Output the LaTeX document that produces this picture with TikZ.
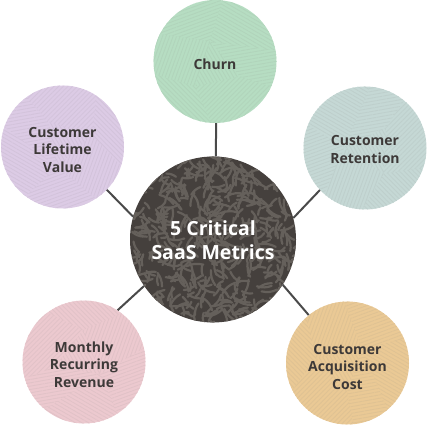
\documentclass[tikz,border=0pt]{standalone}
\usepackage{fontspec}
\setmainfont{Open Sans}
\usetikzlibrary{patterns.meta}
\definecolor{cchurn}{HTML}{B6DDC2}
\definecolor{cret}{HTML}{C5D8D5}
\definecolor{cclv}{HTML}{DCCBE5}
\definecolor{cmrr}{HTML}{ECC9CF}
\definecolor{ccac}{HTML}{EAC995}
\definecolor{ccenter}{HTML}{45403D}
\definecolor{cleaf}{HTML}{65605B}
\definecolor{ctext}{HTML}{3D3938}
\definecolor{cline}{HTML}{4A4A4A}
\newcommand\mpatch[2]{\fill[pattern={Lines[angle=#1,distance=3.3pt,line width=0.8pt]},pattern color=pc] #2 -- cycle;}
\newcommand\mtexture[3]{%
  \begin{scope}
    \colorlet{pc}{#2!90!gray}
    \clip (#1.center) circle (61.5pt);
    \begin{scope}[shift={(#1.center)},rotate=#3]
      \mpatch{20}{(-70,70)--(10,70)--(-5,20)--(-70,30)}
      \mpatch{-30}{(10,70)--(70,70)--(70,10)--(-5,20)}
      \mpatch{70}{(-70,30)--(-5,20)--(-20,-25)--(-70,-10)}
      \mpatch{10}{(-5,20)--(70,10)--(70,-30)--(25,-15)}
      \mpatch{120}{(-5,20)--(25,-15)--(-20,-25)}
      \mpatch{-45}{(-70,-10)--(-20,-25)--(0,-70)--(-70,-70)}
      \mpatch{45}{(-20,-25)--(25,-15)--(70,-30)--(70,-70)--(0,-70)}
    \end{scope}
  \end{scope}}
\begin{document}
\begin{tikzpicture}[x=1pt,y=1pt,
  metric/.style={circle,inner sep=0pt,minimum size=123pt},
  mtext/.style={text=ctext,font=\fontsize{14}{17.5}\selectfont\bfseries,align=center},
  hub/.style={circle,inner sep=0pt,minimum size=166pt,fill=ccenter},
  hubtext/.style={text=white,font=\fontsize{19.5}{24}\selectfont\bfseries,align=center},
  leaf/.style={draw=cleaf,line width=2.2pt,line cap=round},
  link/.style={draw=cline,line width=2pt}]
\useasboundingbox (0,0) rectangle (427,425);
\node[hub] (center) at (213,185.5) {};
\node[metric,fill=cchurn] (churn) at (215,363.5) {};
\node[metric,fill=cret] (ret) at (365,277) {};
\node[metric,fill=cclv] (clv) at (62.5,278) {};
\node[metric,fill=cmrr] (mrr) at (84,63) {};
\node[metric,fill=ccac] (cac) at (347.5,62) {};
\mtexture{churn}{cchurn}{0}
\mtexture{ret}{cret}{75}
\mtexture{clv}{cclv}{150}
\mtexture{mrr}{cmrr}{220}
\mtexture{cac}{ccac}{300}
\begin{scope}
  \clip (center.center) circle (83pt);
  \pgfmathsetseed{11}
  \foreach \i in {1,...,480}{
    \pgfmathsetmacro\rr{88*sqrt(rnd)}
    \pgfmathsetmacro\tt{360*rnd}
    \pgfmathsetmacro\aa{360*rnd}
    \pgfmathsetmacro\ll{7+10*rnd}
    \draw[leaf] ([shift={(\tt:\rr)}]center.center) to[bend left=18] ++(\aa:\ll);
  }
\end{scope}
\node[hubtext] at ([yshift=-1pt]center.center) {5 Critical\\SaaS Metrics};
\node[mtext] at ([yshift=-2.5pt]churn.center) {Churn};
\node[mtext] at ([yshift=-1.5pt]ret.center) {Customer\\Retention};
\node[mtext] at ([yshift=-3pt]clv.center) {Customer\\Lifetime\\Value};
\node[mtext] at ([yshift=-2.5pt]mrr.center) {Monthly\\Recurring\\Revenue};
\node[mtext] at ([yshift=-3.5pt]cac.center) {Customer\\Acquisition\\Cost};
\draw[link] (churn.-89) -- (center.88);
\draw[link] (center.164) -- (clv.-44);
\draw[link] (center.15) -- (ret.223);
\draw[link] (center.214) -- (mrr.57);
\draw[link] (center.-33) -- (cac.129);
\end{tikzpicture}
\end{document}
